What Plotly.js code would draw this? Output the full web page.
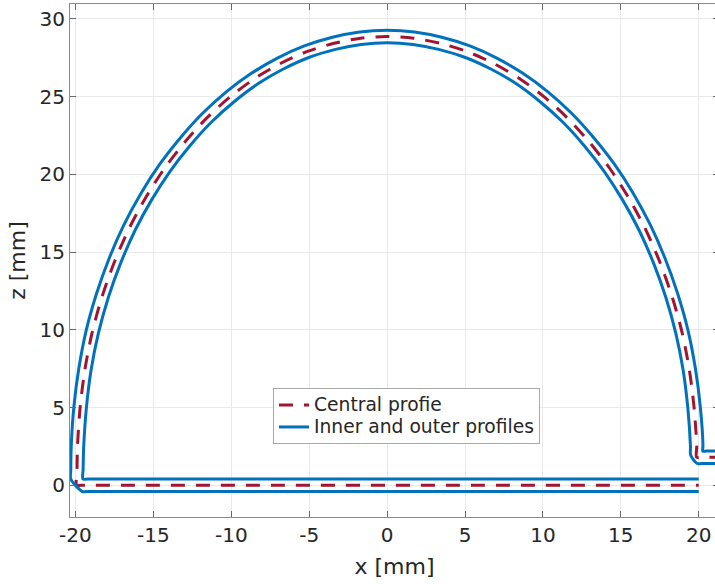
<!DOCTYPE html>
<html>
<head>
<meta charset="utf-8">
<script src="https://cdn.plot.ly/plotly-3.0.1.min.js"></script>
<style>
  html, body { margin: 0; padding: 0; width: 715px; height: 584px; overflow: hidden; background: #fff; }
  #chart { width: 740px; height: 584px; }
</style>
</head>
<body>
<div id="chart"></div>
<script>
// Central profile of the arch (mm): right ledge, arch from right to left, base line
const centralX = [21.6, 20.1, 19.86, 19.87, 19.70, 19.39, 18.92, 18.27, 17.47, 16.54, 15.46, 14.27, 12.95, 11.55, 10.06, 8.49, 6.85, 5.16, 3.41, 1.71, 0,
  -1.71, -3.41, -5.16, -6.85, -8.49, -10.06, -11.55, -12.95, -14.27, -15.46, -16.54, -17.47, -18.27, -18.92, -19.39, -19.70, -19.87, -19.90, -19.92, -19.6, 20.0];
const centralZ = [1.8, 1.8, 1.8, 2.52, 5.01, 7.47, 9.87, 12.20, 14.44, 16.56, 18.56, 20.41, 22.11, 23.65, 25.00, 26.17, 27.13, 27.89, 28.43, 28.76, 28.87,
  28.76, 28.43, 27.89, 27.13, 26.17, 25.00, 23.65, 22.11, 20.41, 18.56, 16.56, 14.44, 12.20, 9.87, 7.47, 5.01, 2.52, 1.0, 0.0, 0.0, 0.0];

// Outer profile (mm)
const outerX = [21.6, 20.5, 20.26, 20.27, 20.10, 19.78, 19.31, 18.65, 17.84, 16.90, 15.81, 14.60, 13.26, 11.84, 10.32, 8.71, 7.04, 5.31, 3.51, 1.76, 0,
  -1.76, -3.51, -5.31, -7.04, -8.71, -10.32, -11.84, -13.26, -14.60, -15.81, -16.90, -17.84, -18.65, -19.31, -19.78, -20.10, -20.27, -20.30, -20.30, -19.55, -19.25, 20.0];
const outerZ = [2.2, 2.2, 2.2, 2.54, 5.06, 7.54, 9.97, 12.32, 14.59, 16.73, 18.76, 20.64, 22.36, 23.93, 25.31, 26.50, 27.48, 28.26, 28.82, 29.16, 29.27,
  29.16, 28.82, 28.26, 27.48, 26.50, 25.31, 23.93, 22.36, 20.64, 18.76, 16.73, 14.59, 12.32, 9.97, 7.54, 5.06, 2.54, 1.0, 0.4, -0.4, -0.4, -0.4];

// Inner profile (mm)
const innerX = [21.6, 20.2, 19.9, 19.48, 19.47, 19.30, 19.00, 18.53, 17.89, 17.10, 16.18, 15.11, 13.94, 12.64, 11.27, 9.80, 8.27, 6.66, 5.02, 3.31, 1.66, 0,
  -1.66, -3.31, -5.02, -6.66, -8.27, -9.80, -11.27, -12.64, -13.94, -15.11, -16.18, -17.10, -17.89, -18.53, -19.00, -19.30, -19.47, -19.51, -19.52, -19.2, 20.0];
const innerZ = [1.4, 1.4, 1.4, 1.95, 2.50, 4.96, 7.40, 9.77, 12.08, 14.29, 16.39, 18.36, 20.18, 21.86, 23.37, 24.69, 25.84, 26.78, 27.52, 28.04, 28.36, 28.47,
  28.36, 28.04, 27.52, 26.78, 25.84, 24.69, 23.37, 21.86, 20.18, 18.36, 16.39, 14.29, 12.08, 9.77, 7.40, 4.96, 2.50, 1.0, 0.4, 0.4, 0.4];

const xTicks = [-20, -15, -10, -5, 0, 5, 10, 15, 20];
const zTicks = [0, 5, 10, 15, 20, 25, 30];

const BLUE = '#0072BD';
const RED = '#A2142F';
const FONT = 'DejaVu Sans, sans-serif';
const TEXT = '#262626';

// legend labels rendered a little larger than the row spacing implies
const label = s => '<span style="font-size:18.7px">' + s + '</span>';

const traces = [
  {
    x: centralX, y: centralZ, type: 'scatter', mode: 'lines',
    name: label('Central profie'),
    line: { color: RED, width: 3, dash: '14px,11px', shape: 'spline', smoothing: 0.8 }
  },
  {
    x: outerX, y: outerZ, type: 'scatter', mode: 'lines',
    name: label('Inner and outer profiles'), legendgroup: 'io',
    line: { color: BLUE, width: 3, shape: 'spline', smoothing: 0.8 }
  },
  {
    x: innerX, y: innerZ, type: 'scatter', mode: 'lines',
    name: label('Inner and outer profiles'), legendgroup: 'io', showlegend: false,
    line: { color: BLUE, width: 3, shape: 'spline', smoothing: 0.8 }
  }
];

const axisCommon = {
  showline: true, mirror: 'ticks', linecolor: '#8a8a8a', linewidth: 1,
  ticks: 'inside', ticklen: 6, tickcolor: '#6a6a6a', tickwidth: 1,
  showgrid: true, gridcolor: '#e9e9e9', gridwidth: 1,
  zeroline: false,
  tickfont: { family: FONT, size: 20, color: TEXT }
};

const layout = {
  width: 740, height: 584,
  margin: { l: 70, r: 21, t: 4, b: 67 },
  paper_bgcolor: '#fff', plot_bgcolor: '#fff',
  showlegend: true,
  xaxis: Object.assign({}, axisCommon, {
    range: [-20.35, 21.3], tickvals: xTicks, ticktext: xTicks.map(String),
    title: { text: 'x [mm]', font: { family: FONT, size: 22, color: TEXT }, standoff: 12 }
  }),
  yaxis: Object.assign({}, axisCommon, {
    range: [-2.04, 30.96], tickvals: zTicks, ticktext: zTicks.map(String),
    title: { text: 'z [mm]', font: { family: FONT, size: 22, color: TEXT }, standoff: 7 }
  }),
  legend: {
    x: 0.3128, y: 0.2515, xanchor: 'left', yanchor: 'top',
    bgcolor: '#fff', bordercolor: '#a8a8a8', borderwidth: 1,
    font: { family: FONT, size: 14.6, color: TEXT },
    tracegroupgap: 0
  }
};

Plotly.newPlot('chart', traces, layout, { displayModeBar: false, staticPlot: true });
</script>
</body>
</html>
